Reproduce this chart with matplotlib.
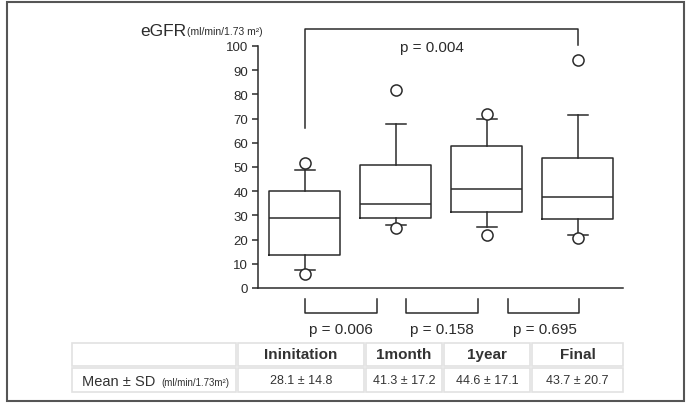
"""eGFR over follow-up: box plot with p-value brackets and a mean/SD table."""
import matplotlib
matplotlib.use("Agg")
import matplotlib.pyplot as plt
from matplotlib.patches import Rectangle

plt.rcParams["font.family"] = ["Liberation Sans", "DejaVu Sans"]

W, H = 689, 406

# --- data ---
timepoints = ["Ininitation", "1month", "1year", "Final"]
q1 = [13.6, 28.9, 31.4, 28.5]
medians = [28.9, 34.7, 40.9, 37.6]
q3 = [40.0, 50.8, 58.7, 53.7]
whisker_lo = [7.4, 26.0, 25.2, 21.9]
whisker_hi = [48.8, 67.8, 69.8, 71.5]
fliers = [[51.6, 5.8], [82.0, 24.6], [71.9, 21.9], [94.2, 20.7]]
means = [28.1, 41.3, 44.6, 43.7]
sds = [14.8, 17.2, 17.1, 20.7]
yticks = [0, 10, 20, 30, 40, 50, 60, 70, 80, 90, 100]
overall_p = "p = 0.004"
pair_p = ["p = 0.006", "p = 0.158", "p = 0.695"]

INK = "#2b2b2b"


def px_box(x0, y0, x1, y1):
    """pixel box (top-left origin) -> figure fraction [left, bottom, w, h]"""
    return [x0 / W, 1 - y1 / H, (x1 - x0) / W, (y1 - y0) / H]


fig = plt.figure(figsize=(W / 100, H / 100), dpi=100)
fig.patches.append(Rectangle((7 / W, 1 - 402 / H), 677 / W, 399 / H,
                             transform=fig.transFigure, fill=False,
                             edgecolor="#555555", linewidth=1.5))

ax = fig.add_axes(px_box(258, 47, 623, 289))
stats = []
for i in range(len(timepoints)):
    stats.append(dict(med=medians[i], q1=q1[i], q3=q3[i],
                      whislo=whisker_lo[i], whishi=whisker_hi[i],
                      fliers=fliers[i]))
pos = list(range(1, len(timepoints) + 1))
line = dict(color=INK, linewidth=1.1)
ax.bxp(stats, positions=pos, widths=0.78, showfliers=True,
       boxprops=line, medianprops=line, whiskerprops=line,
       capprops=line, capwidths=0.22,
       flierprops=dict(marker="o", markersize=8, markerfacecolor="white",
                       markeredgecolor=INK, markeredgewidth=1.1))

ax.set_xlim(0.484, 4.495)
ax.set_ylim(0, 100)
ax.set_yticks(yticks)
ax.set_xticks([])
ax.tick_params(axis="y", length=4, width=1.1, color=INK, labelsize=9.5,
               labelcolor=INK, pad=3)
for s in ["top", "right"]:
    ax.spines[s].set_visible(False)
for s in ["left", "bottom"]:
    ax.spines[s].set_color(INK)
    ax.spines[s].set_linewidth(1.1)

# overall bracket
ax.plot([1, 1, 4, 4], [66, 107, 107, 100.5], color=INK, lw=1.1, clip_on=False)
ax.text(2.40, 99.6, overall_p, ha="center", va="center", fontsize=11,
        color=INK)

# pairwise brackets below axis
spans = [(1.0, 1.79), (2.11, 2.90), (3.23, 4.01)]
text_x = [1.40, 2.50, 3.64]
for (a, b), tx, txt in zip(spans, text_x, pair_p):
    ax.plot([a, a, b, b], [-4.5, -10.3, -10.3, -4.5], color=INK, lw=1.1,
            clip_on=False)
    ax.text(tx, -17, txt, ha="center", va="center", fontsize=11,
            color=INK, clip_on=False)

# axis title
fig.text(140 / W, 1 - 31 / H, "eGFR", fontsize=12.5, color=INK,
         ha="left", va="center")
fig.text(187 / W, 1 - 32 / H, "(ml/min/1.73 m²)", fontsize=7.5, color=INK,
         ha="left", va="center")

# table
cols = [71, 237, 365, 443, 531, 624]
rows = [343, 368, 394]
header = [""] + timepoints
values = [""] + [f"{m} ± {s}" for m, s in zip(means, sds)]
for r, texts in enumerate([header, values]):
    for c, t in enumerate(texts):
        x0, x1 = cols[c] + 1, cols[c + 1] - 1
        y0, y1 = rows[r] + 1, rows[r + 1] - 1
        fig.patches.append(Rectangle((x0 / W, 1 - y1 / H), (x1 - x0) / W,
                                     (y1 - y0) / H, transform=fig.transFigure,
                                     fill=False, edgecolor="#e2e2e2",
                                     linewidth=1.2))
        if t:
            fig.text((x0 + x1) / 2 / W, 1 - (y0 + y1) / 2 / H, t,
                     ha="center", va="center", color="#333333",
                     fontsize=11 if r == 0 else 9,
                     fontweight="bold" if r == 0 else "normal")

fig.text(82 / W, 1 - 382 / H, "Mean ± SD", fontsize=10.5, color="#333333",
         ha="left", va="center")
fig.text(161 / W, 1 - 383 / H, "(ml/min/1.73m²)", fontsize=7, color="#333333",
         ha="left", va="center")

fig.savefig("out.png", dpi=100)
